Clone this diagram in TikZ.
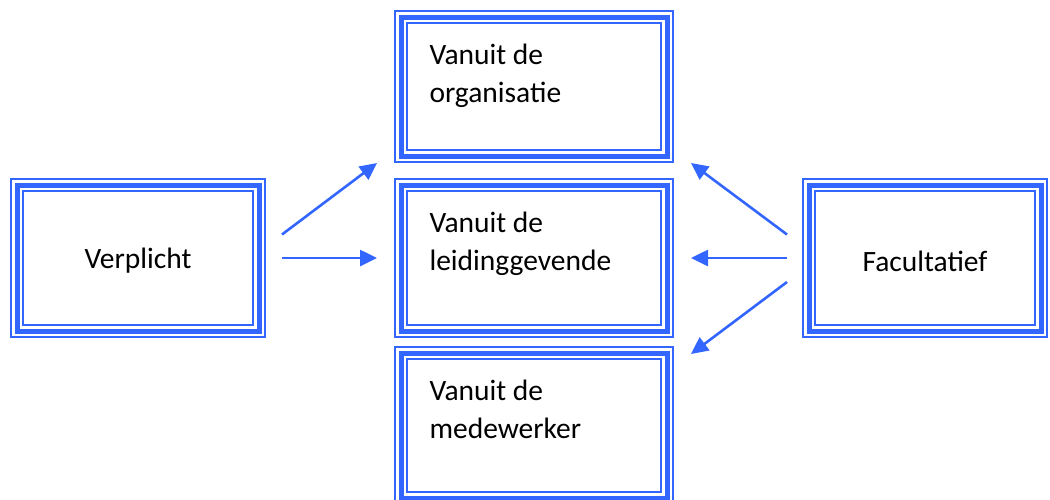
\documentclass[tikz,border=0pt]{standalone}
\usepackage{fontspec}
\setmainfont{Carlito}
\usetikzlibrary{arrows.meta,calc}
\definecolor{boxblue}{RGB}{51,102,255}
\tikzset{
  % thin - thick - thin frame, drawn as stacked strokes
  tripleframe/.style={
    preaction={fill=white, draw=boxblue, line width=14pt},
    preaction={draw=white, line width=10pt},
    draw=boxblue, line width=5pt,
    inner sep=0pt, outer sep=0pt, line join=miter
  },
  boxtext/.style={font=\fontsize{29.5}{37.5}\selectfont, inner sep=0pt, outer sep=0pt},
  coltext/.style={boxtext, align=left, anchor=north west},
  arr/.style={draw=boxblue, line width=2.6pt, -{Triangle[length=17pt,width=16pt]}}
}
\begin{document}
\begin{tikzpicture}[x=1pt, y=-1pt]
\useasboundingbox (0,0) rectangle (1050,499);

% boxes
\node[tripleframe, minimum width=266pt, minimum height=139pt] (org)  at (534,86.5) {};
\node[tripleframe, minimum width=266pt, minimum height=146pt] (lead) at (534,258) {};
\node[tripleframe, minimum width=266pt, minimum height=145pt] (emp)  at (534,425.5) {};
\node[tripleframe, minimum width=242pt, minimum height=146pt] (verp) at (138,258) {};
\node[tripleframe, minimum width=232pt, minimum height=146pt] (fac)  at (925,258) {};

% labels
\node[coltext] (orgtxt)  at ($(org.north west)+(28.5,27.5)$)  {Vanuit de\\organisatie};
\node[coltext] (leadtxt) at ($(lead.north west)+(28.5,27.5)$) {Vanuit de\\leidinggevende};
\node[coltext] (emptxt)  at ($(emp.north west)+(28.5,27.5)$)  {Vanuit de\\medewerker};
\node[boxtext] (verptxt) at ($(verp.center)+(0,3)$) {Verplicht};
\node[boxtext] (factxt)  at ($(fac.center)+(0,3)$) {Facultatief};

% arrows
\draw[arr] ($(verp.east)+(23,-23.5)$) -- ($(org.south west)+(-24,7)$);
\draw[arr] ($(verp.east)+(23,0)$) -- ($(lead.west)+(-24,0)$);
\draw[arr] ($(fac.west)+(-22,-23.5)$) -- ($(org.south east)+(24,7)$);
\draw[arr] ($(fac.west)+(-22,0)$) -- ($(lead.east)+(24,0)$);
\draw[arr] ($(fac.west)+(-22,24)$) -- ($(emp.north east)+(24,1)$);
\end{tikzpicture}
\end{document}
